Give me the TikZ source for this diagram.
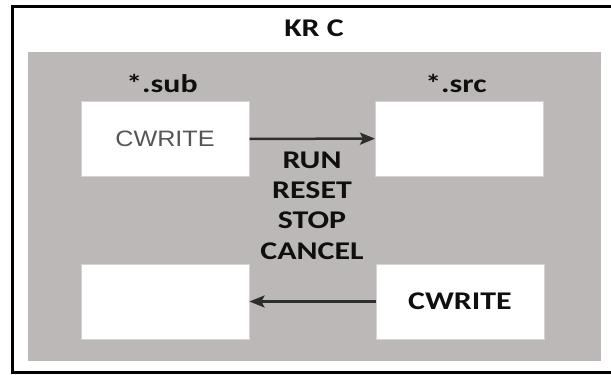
\documentclass[tikz,border=0pt]{standalone}
\usepackage{fontspec}
\setmainfont{Carlito}
\newfontfamily\arialfont{Liberation Sans}
\usetikzlibrary{arrows.meta}
\definecolor{panel}{RGB}{189,184,184}
\definecolor{boxline}{RGB}{214,211,211}
\definecolor{ink}{RGB}{15,15,15}
\definecolor{grayink}{RGB}{85,85,85}
\definecolor{arrowc}{RGB}{45,45,45}
\newcommand\widetxt[1]{\scalebox{1.25}[1]{#1}}
\newcommand\widear[1]{\scalebox{1.13}[1]{#1}}
\begin{document}
\begin{tikzpicture}[x=1bp,y=-1bp,
  box/.style={draw=boxline, fill=white, line width=1bp, minimum width=168bp, minimum height=75bp, inner sep=0pt},
  lbl/.style={text=ink, font=\bfseries\fontsize{25.5bp}{30.3bp}\selectfont, inner sep=0pt},
  arr/.style={draw=arrowc, line width=2.5bp, -{Stealth[length=15bp,width=12bp,inset=3bp]}}]
\useasboundingbox (0,0) rectangle (611,374);
\fill[white] (0,0) rectangle (611,374);
\draw[line width=3bp] (625,6.5) -- (12.5,6.5) -- (12.5,372.5) -- (625,372.5);
\fill[panel] (28,52) rectangle (601,361);
\node[lbl] (title) at (314,28) {\widetxt{KR C}};
\node[lbl] (sub) at (162,83) {\widetxt{*.sub}};
\node[lbl] (src) at (456,83) {\widetxt{*.src}};
\node[box, text=grayink, font=\arialfont\fontsize{22.3bp}{26bp}\selectfont] (tl) at (165,139) {\widear{CWRITE}};
\node[box] (tr) at (459.5,138.5) {};
\node[box] (bl) at (165,301.5) {};
\node[box, lbl] (br) at (460,301.5) {\widetxt{CWRITE}};
\node[lbl, align=center] (cmds) at (312,205.5) {\widetxt{RUN}\\\widetxt{RESET}\\\widetxt{STOP}\\\widetxt{CANCEL}};
\draw[arr] (tl) -- (tr);
\draw[arr] (br) -- (bl);
\end{tikzpicture}
\end{document}
